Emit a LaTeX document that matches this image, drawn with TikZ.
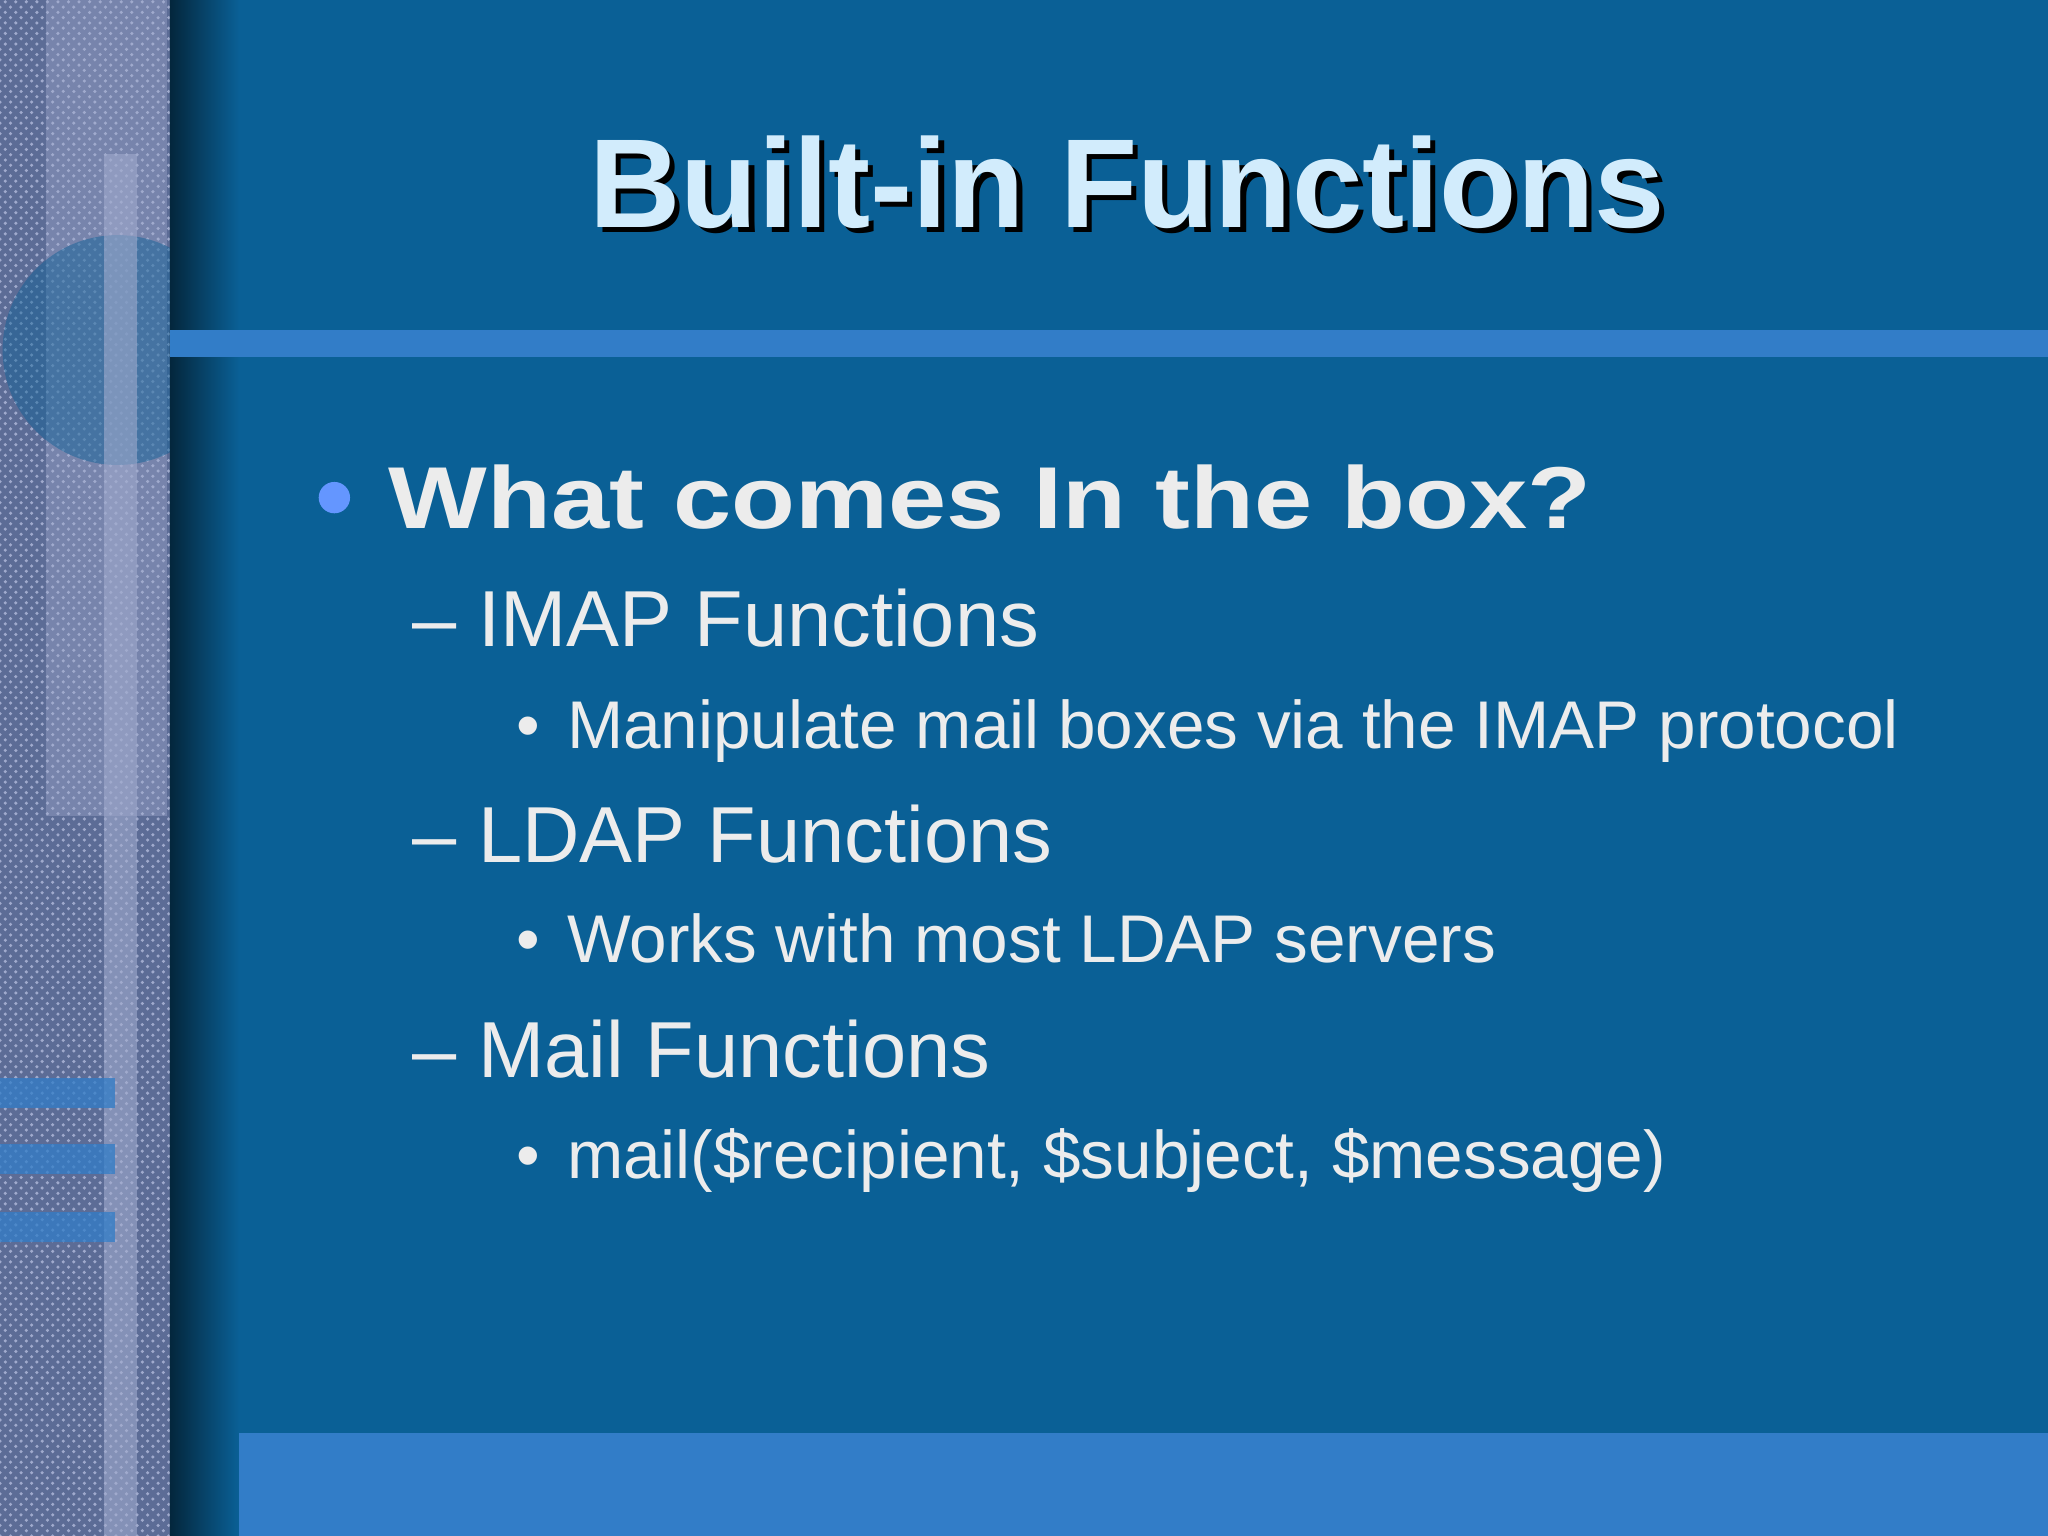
\documentclass[tikz,border=0pt]{standalone}
\usepackage{fontspec}
\setmainfont{Liberation Sans}
\usetikzlibrary{patterns}
\definecolor{bg}{RGB}{10,96,150}
\definecolor{barc}{RGB}{50,125,200}
\definecolor{tex}{RGB}{92,108,150}
\definecolor{texl}{RGB}{160,170,205}
\definecolor{titc}{RGB}{210,236,252}
\definecolor{txt}{RGB}{236,236,236}
\definecolor{dot}{RGB}{100,150,255}
\tikzset{
 body/.style={anchor=base west,text=txt,inner sep=0pt},
 lvlone/.style={body,font=\fontsize{25}{28}\selectfont\bfseries},
 lvltwo/.style={body,font=\fontsize{22.6}{26}\selectfont},
 lvlthree/.style={body,font=\fontsize{19.2}{22}\selectfont},
}
\begin{document}
\begin{tikzpicture}[x=0.013061cm,y=-0.013061cm]
\useasboundingbox (0,0) rectangle (1568,1176);
\fill[bg] (0,0) rectangle (1568,1176);
% textured strip
\fill[tex] (0,0) rectangle (130,1176);
\fill[pattern=crosshatch dots, pattern color=texl] (0,0) rectangle (130,1176);
\fill[texl,opacity=0.4] (35,0) rectangle (128,625);
\fill[bg,opacity=0.45] (90,268) circle (88);
\fill[texl,opacity=0.6] (80,118) rectangle (105,1176);
\foreach \yy in {825,876,928} \fill[barc,opacity=0.75] (0,\yy) rectangle (88,\yy+23);
% shadow strip
\shade[left color=black!60!bg,right color=bg] (130,0) rectangle (183,1176);
% bars
\fill[barc] (130,253) rectangle (1568,273);
\fill[barc] (183,1097) rectangle (1568,1176);
% title
\node[anchor=base,inner sep=0pt,text=black,font=\fontsize{36}{40}\selectfont\bfseries] (tshadow) at (867,178) {Built-in Functions};
\node[anchor=base,inner sep=0pt,text=titc,font=\fontsize{36}{40}\selectfont\bfseries] (title) at (863,174) {Built-in Functions};
% bullets
\fill[dot] (256,381) circle (12);
\node[lvlone] (q) at (297,405) {\scalebox{1.19}[1]{What comes In the box?}};
\node[lvltwo] (imap) at (315,495) {– IMAP Functions};
\node[lvlthree] (imapd) at (395,573) {•\hspace{0.4em}Manipulate mail boxes via the IMAP protocol};
\node[lvltwo] (ldap) at (315,660) {– LDAP Functions};
\node[lvlthree] (ldapd) at (395,737) {•\hspace{0.4em}Works with most LDAP servers};
\node[lvltwo] (mail) at (315,825) {– Mail Functions};
\node[lvlthree] (maild) at (395,902) {•\hspace{0.4em}mail(\$recipient, \$subject, \$message)};
\end{tikzpicture}
\end{document}
